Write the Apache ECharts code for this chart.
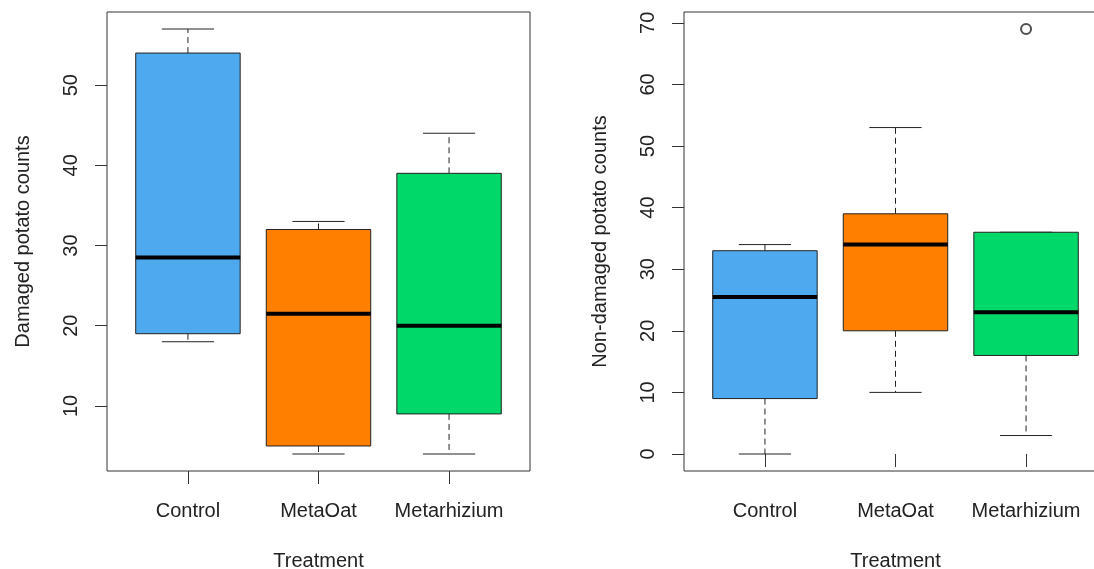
<!DOCTYPE html>
<html>
<head>
<meta charset="utf-8">
<style>
  html, body { margin: 0; padding: 0; background: #ffffff; }
  #chart { width: 1094px; height: 569px; }
</style>
<script src="https://cdn.jsdelivr.net/npm/echarts@6/dist/echarts.min.js"></script>
</head>
<body>
<div id="chart"></div>
<script>
// ---- Data ----
const categories = ['Control', 'MetaOat', 'Metarhizium'];
// [min whisker, Q1, median, Q3, max whisker]
const damagedStats = [
  [18, 19, 28.5, 54, 57],
  [4, 5, 21.5, 32, 33],
  [4, 9, 20, 39, 44]
];
const nonDamagedStats = [
  [0, 9, 25.5, 33, 34],
  [10, 20, 34, 39, 53],
  [3, 16, 23, 36, 36]
];
// [category position (1-based), value]
const nonDamagedOutliers = [[3, 69]];
const damagedTicks = [10, 20, 30, 40, 50];
const nonDamagedTicks = [0, 10, 20, 30, 40, 50, 60, 70];
const categoryTicks = [1, 2, 3];

// ---- Styles ----
const boxColors = ['#4EA9EE', '#FF8000', '#00D96A'];
const FONT = "'Liberation Sans', Arial, sans-serif";
const INK = '#222';

function toItems(stats) {
  return stats.map((s, i) => [i + 1].concat(s));
}

function renderBox(params, api) {
  const x = api.value(0);
  const mn = api.value(1), q1 = api.value(2), med = api.value(3), q3 = api.value(4), mx = api.value(5);
  const halfBox = api.size([0.4, 0])[0];
  const halfCap = halfBox / 2;
  const c = (v) => api.coord([x, v]);
  const pMin = c(mn), pQ1 = c(q1), pMed = c(med), pQ3 = c(q3), pMax = c(mx);
  const cx = pMed[0];
  const color = boxColors[params.dataIndex % boxColors.length];
  const dash = { stroke: INK, lineWidth: 1, lineDash: [6, 4] };
  const solid = { stroke: INK, lineWidth: 1 };
  return {
    type: 'group',
    children: [
      { type: 'line', shape: { x1: cx, y1: pQ3[1], x2: cx, y2: pMax[1] }, style: dash },
      { type: 'line', shape: { x1: cx, y1: pQ1[1], x2: cx, y2: pMin[1] }, style: dash },
      { type: 'line', shape: { x1: cx - halfCap, y1: pMax[1], x2: cx + halfCap, y2: pMax[1] }, style: solid },
      { type: 'line', shape: { x1: cx - halfCap, y1: pMin[1], x2: cx + halfCap, y2: pMin[1] }, style: solid },
      { type: 'rect', shape: { x: cx - halfBox, y: pQ3[1], width: 2 * halfBox, height: pQ1[1] - pQ3[1] },
        style: { fill: color, stroke: INK, lineWidth: 1 } },
      { type: 'line', shape: { x1: cx - halfBox, y1: pMed[1], x2: cx + halfBox, y2: pMed[1] },
        style: { stroke: '#000', lineWidth: 4 } }
    ]
  };
}

function xAxisFor(gridIndex) {
  return {
    type: 'value', gridIndex: gridIndex, min: 0.38, max: 3.62,
    name: 'Treatment', nameLocation: 'middle', nameGap: 80,
    nameTextStyle: { fontFamily: FONT, fontSize: 20, color: INK },
    axisLine: { show: false },
    splitLine: { show: false },
    axisTick: { show: true, length: 13, customValues: categoryTicks, lineStyle: { color: '#333', width: 1 } },
    axisLabel: { customValues: categoryTicks, margin: 30, fontFamily: FONT, fontSize: 20, color: INK,
      formatter: (v) => categories[Math.round(v) - 1] }
  };
}

function yAxisFor(gridIndex, name, min, max, ticks) {
  return {
    type: 'value', gridIndex: gridIndex, min: min, max: max,
    name: name, nameLocation: 'middle', nameRotate: 90, nameGap: 74,
    nameTextStyle: { fontFamily: FONT, fontSize: 20, color: INK },
    axisLine: { show: false },
    splitLine: { show: false },
    axisTick: { show: true, length: 12, customValues: ticks, lineStyle: { color: '#333', width: 1 } },
    axisLabel: { customValues: ticks, rotate: 90, margin: 26, fontFamily: FONT, fontSize: 20, color: INK }
  };
}

const chart = echarts.init(document.getElementById('chart'), null, { renderer: 'canvas' });
chart.setOption({
  backgroundColor: '#ffffff',
  animation: false,
  grid: [
    { left: 107, top: 12, width: 423, height: 459, show: true, borderColor: '#333', borderWidth: 1,
      backgroundColor: 'transparent', outerBoundsMode: 'none', containLabel: false },
    { left: 684, top: 12, width: 423, height: 459, show: true, borderColor: '#333', borderWidth: 1,
      backgroundColor: 'transparent', outerBoundsMode: 'none', containLabel: false }
  ],
  xAxis: [xAxisFor(0), xAxisFor(1)],
  yAxis: [
    yAxisFor(0, 'Damaged potato counts', 1.88, 59.12, damagedTicks),
    yAxisFor(1, 'Non-damaged potato counts', -2.76, 71.76, nonDamagedTicks)
  ],
  series: [
    { type: 'custom', xAxisIndex: 0, yAxisIndex: 0, renderItem: renderBox,
      encode: { x: 0, y: [1, 2, 3, 4, 5] }, data: toItems(damagedStats) },
    { type: 'custom', xAxisIndex: 1, yAxisIndex: 1, renderItem: renderBox,
      encode: { x: 0, y: [1, 2, 3, 4, 5] }, data: toItems(nonDamagedStats) },
    { type: 'scatter', xAxisIndex: 1, yAxisIndex: 1, symbol: 'emptyCircle', symbolSize: 10,
      itemStyle: { color: INK, borderColor: INK, borderWidth: 1.5 }, data: nonDamagedOutliers }
  ]
});
</script>
</body>
</html>
